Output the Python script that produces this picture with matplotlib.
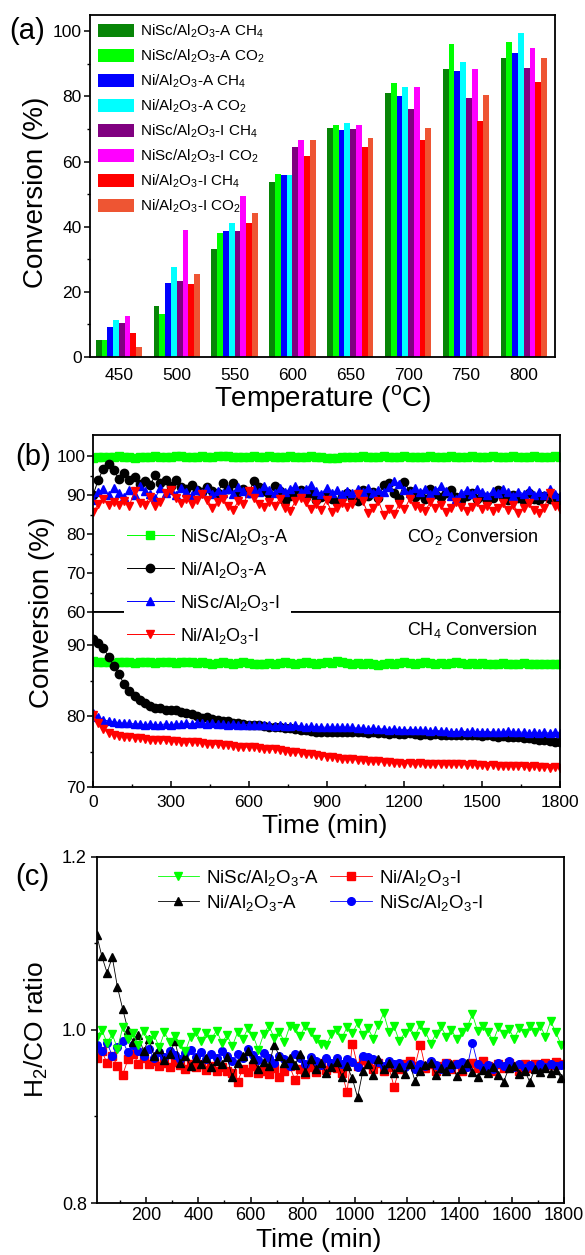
import numpy as np
import matplotlib
matplotlib.use("Agg")
import matplotlib.pyplot as plt
from matplotlib.ticker import MultipleLocator, FixedLocator

plt.rcParams['font.family'] = ['Liberation Sans', 'DejaVu Sans']
plt.rcParams['mathtext.fontset'] = 'custom'
plt.rcParams['mathtext.rm'] = 'Liberation Sans'
plt.rcParams['mathtext.it'] = 'Liberation Sans:italic'
plt.rcParams['mathtext.bf'] = 'Liberation Sans:bold'
plt.rcParams['mathtext.default'] = 'regular'

# ---------------- (a) data ----------------
temps = [450, 500, 550, 600, 650, 700, 750, 800]
nisc_a_ch4 = [5.1, 15.6, 33.1, 53.7, 70.3, 81.2, 88.5, 91.9]
nisc_a_co2 = [5.1, 13.3, 38.2, 56.3, 71.3, 84.0, 96.0, 96.8]
ni_a_ch4 = [9.2, 22.8, 38.6, 56.0, 69.7, 80.2, 87.9, 93.3]
ni_a_co2 = [11.5, 27.7, 41.2, 56.0, 71.7, 82.8, 90.6, 99.4]
nisc_i_ch4 = [10.3, 23.4, 38.6, 64.4, 70.1, 76.0, 79.6, 88.7]
nisc_i_co2 = [12.7, 39.0, 49.4, 66.5, 71.1, 82.8, 88.5, 94.8]
ni_i_ch4 = [7.4, 22.4, 41.0, 61.6, 64.6, 66.5, 72.5, 84.4]
ni_i_co2 = [3.1, 25.4, 44.3, 66.5, 67.3, 70.3, 80.5, 91.8]
bar_labels = [r'NiSc/Al$_2$O$_3$-A CH$_4$', r'NiSc/Al$_2$O$_3$-A CO$_2$',
              r'Ni/Al$_2$O$_3$-A CH$_4$', r'Ni/Al$_2$O$_3$-A CO$_2$',
              r'NiSc/Al$_2$O$_3$-I CH$_4$', r'NiSc/Al$_2$O$_3$-I CO$_2$',
              r'Ni/Al$_2$O$_3$-I CH$_4$', r'Ni/Al$_2$O$_3$-I CO$_2$']
bar_colors = ['#078507', '#00ff00', '#0000ff', '#00ffff',
              '#800080', '#ff00ff', '#ff0000', '#ee5533']

# ---------------- (b) data ----------------
time_b = [0, 20, 40, 60, 80, 100, 120, 140, 160, 180,
          200, 220, 240, 260, 280, 300, 320, 340, 360, 380,
          400, 420, 440, 460, 480, 500, 520, 540, 560, 580,
          600, 620, 640, 660, 680, 700, 720, 740, 760, 780,
          800, 820, 840, 860, 880, 900, 920, 940, 960, 980,
          1000, 1020, 1040, 1060, 1080, 1100, 1120, 1140, 1160, 1180,
          1200, 1220, 1240, 1260, 1280, 1300, 1320, 1340, 1360, 1380,
          1400, 1420, 1440, 1460, 1480, 1500, 1520, 1540, 1560, 1580,
          1600, 1620, 1640, 1660, 1680, 1700, 1720, 1740, 1760, 1780,
          1800]

co2_nisc_a = [99.6, 99.7, 99.8, 99.7, 99.8, 99.9, 99.7, 99.8, 99.6, 99.7,
              99.8, 99.7, 99.9, 99.8, 99.7, 99.8, 99.9, 100.0, 99.8, 99.7,
              99.8, 99.9, 99.8, 99.7, 99.9, 100.1, 99.9, 99.8, 99.7, 99.8,
              99.8, 99.9, 99.7, 99.8, 99.9, 99.8, 99.7, 99.8, 99.9, 99.8,
              99.7, 99.8, 99.9, 99.8, 99.7, 99.5, 99.4, 99.6, 99.7, 99.8,
              99.7, 99.8, 99.9, 99.8, 99.7, 99.8, 99.9, 99.8, 99.7, 99.8,
              99.9, 99.8, 99.7, 99.8, 99.8, 99.9, 99.8, 99.7, 99.8, 99.9,
              99.8, 99.7, 99.8, 99.9, 99.8, 99.7, 99.8, 99.9, 99.8, 99.7,
              99.8, 99.9, 99.8, 99.7, 99.8, 99.9, 99.8, 99.7, 99.8, 99.9,
              99.8]
co2_ni_a = [90.0, 93.8, 96.8, 97.9, 96.4, 94.0, 95.7, 93.8, 94.5, 92.8,
            93.7, 92.6, 95.1, 93.2, 93.8, 92.4, 93.8, 92.1, 91.5, 92.5,
            91.2, 90.8, 92.0, 91.0, 90.6, 93.0, 91.5, 93.0, 90.8, 91.6,
            90.4, 93.7, 92.0, 91.0, 90.2, 92.3, 91.0, 88.5, 89.8, 90.6,
            91.3, 89.5, 90.4, 88.8, 89.6, 90.2, 89.0, 88.2, 89.4, 90.5,
            89.1, 88.4, 91.2, 89.7, 90.8, 89.3, 92.5, 93.2, 90.6, 89.2,
            93.4, 91.0, 89.6, 90.3, 89.0, 91.6, 90.2, 89.4, 90.6, 91.2,
            89.5, 88.6, 89.8, 90.5, 88.9, 89.7, 88.4, 89.2, 91.3, 89.6,
            88.7, 90.1, 89.2, 88.5, 90.4, 89.0, 88.6, 89.8, 88.9, 89.5,
            88.8]
co2_nisc_i = [88.6, 90.8, 91.5, 89.9, 91.8, 90.4, 89.6, 91.2, 90.0, 92.3,
              91.0, 90.3, 89.3, 91.7, 90.6, 91.4, 90.1, 91.8, 90.7, 89.9,
              91.3, 90.5, 91.9, 90.2, 91.0, 90.6, 91.6, 90.3, 92.1, 91.0,
              90.4, 91.5, 90.7, 92.4, 91.2, 90.5, 91.9, 90.8, 91.6, 92.2,
              90.9, 91.5, 92.6, 91.1, 90.3, 91.8, 90.6, 91.2, 90.2, 91.0,
              90.4, 91.5, 90.7, 91.9, 90.5, 91.3, 90.8, 92.0, 93.6, 92.8,
              91.4, 90.6, 91.8, 90.9, 91.5, 90.3, 91.2, 92.3, 91.0, 89.8,
              89.1, 90.5, 91.3, 90.2, 91.6, 90.8, 89.9, 91.1, 90.4, 91.5,
              90.7, 89.8, 90.9, 90.3, 91.4, 90.1, 90.8, 89.9, 91.6, 90.2,
              89.8]
co2_ni_i = [85.6, 87.6, 88.9, 87.5, 88.2, 87.4, 88.5, 87.3, 91.0, 88.0,
            87.5, 89.6, 87.3, 88.1, 90.4, 91.2, 89.3, 88.0, 89.0, 87.8,
            88.6, 90.3, 88.8, 86.8, 88.2, 89.0, 87.3, 86.1, 88.5, 87.6,
            91.0, 89.2, 87.8, 86.9, 88.3, 87.2, 89.1, 86.7, 86.0, 88.4,
            89.3, 88.1, 86.5, 87.8, 86.2, 88.6, 85.7, 86.6, 88.0, 86.9,
            87.7, 90.2, 88.4, 85.3, 86.8, 88.5, 85.0, 86.4, 85.2, 87.6,
            86.3, 88.9, 87.1, 86.6, 85.9, 88.2, 86.8, 87.5, 85.6, 86.7,
            88.3, 87.0, 85.8, 86.9, 88.1, 86.4, 87.3, 85.9, 86.8, 88.0,
            86.2, 87.4, 85.5, 86.7, 87.9, 86.1, 85.4, 86.8, 90.5, 87.2,
            86.4]

ch4_nisc_a = [87.8, 87.7, 87.6, 87.7, 87.5, 87.6, 87.7, 87.6, 87.5, 87.6,
              87.7, 87.6, 87.5, 87.6, 87.7, 87.6, 87.5, 87.6, 87.7, 87.6,
              87.5, 87.6, 87.5, 87.4, 87.5, 87.6, 87.5, 87.4, 87.5, 87.6,
              87.5, 87.4, 87.3, 87.4, 87.5, 87.4, 87.5, 87.6, 87.5, 87.4,
              87.5, 87.6, 87.5, 87.4, 87.5, 87.6, 87.5, 87.8, 87.6, 87.5,
              87.4, 87.5, 87.4, 87.5, 87.3, 87.2, 87.4, 87.5, 87.4, 87.5,
              87.6, 87.5, 87.4, 87.5, 87.6, 87.5, 87.4, 87.5, 87.4, 87.5,
              87.6, 87.5, 87.4, 87.5, 87.4, 87.5, 87.4, 87.3, 87.4, 87.5,
              87.4, 87.3, 87.4, 87.5, 87.4, 87.3, 87.4, 87.3, 87.4, 87.3,
              87.4]
ch4_ni_a = [90.9, 90.3, 89.6, 88.4, 87.1, 85.9, 84.5, 83.5, 82.8, 82.3,
            81.9, 81.5, 81.2, 81.1, 80.9, 80.8, 80.9, 80.6, 80.4, 80.3,
            80.0, 79.8, 79.9, 79.6, 79.4, 79.3, 79.3, 79.1, 79.0, 78.9,
            78.8, 78.7, 78.7, 78.6, 78.5, 78.5, 78.4, 78.3, 78.3, 78.2,
            78.1, 78.0, 77.9, 77.8, 77.8, 77.7, 77.8, 77.7, 77.8, 77.7,
            77.7, 77.8, 77.7, 77.6, 77.7, 77.6, 77.6, 77.5, 77.6, 77.5,
            77.5, 77.6, 77.5, 77.4, 77.5, 77.4, 77.5, 77.4, 77.4, 77.3,
            77.4, 77.3, 77.3, 77.4, 77.3, 77.2, 77.3, 77.2, 77.1, 77.2,
            77.1, 77.0, 77.0, 76.9, 76.9, 76.8, 76.7, 76.6, 76.5, 76.4,
            76.3]
ch4_nisc_i = [80.4, 79.9, 79.5, 79.3, 79.2, 79.1, 79.0, 79.0, 78.9, 78.9,
              78.8, 78.9, 78.8, 78.8, 78.9, 78.8, 78.9, 78.9, 79.0, 78.9,
              79.0, 79.0, 78.9, 79.0, 78.9, 78.9, 78.8, 78.9, 78.8, 78.8,
              78.8, 78.7, 78.8, 78.7, 78.7, 78.6, 78.7, 78.6, 78.6, 78.7,
              78.6, 78.5, 78.6, 78.5, 78.5, 78.4, 78.5, 78.4, 78.5, 78.4,
              78.4, 78.3, 78.3, 78.2, 78.3, 78.2, 78.2, 78.1, 78.2, 78.1,
              78.1, 78.0, 78.1, 78.0, 78.0, 77.9, 78.0, 77.9, 77.9, 77.8,
              77.7, 77.9, 77.8, 77.9, 77.8, 77.8, 77.7, 77.8, 77.7, 77.8,
              77.9, 77.7, 77.8, 77.7, 77.6, 77.7, 77.6, 77.7, 77.6, 77.7,
              77.6]
ch4_ni_i = [80.1, 79.0, 78.2, 77.6, 77.4, 77.2, 77.1, 77.0, 76.9, 76.9,
            76.8, 76.7, 76.7, 76.6, 76.6, 76.5, 76.5, 76.4, 76.4, 76.3,
            76.3, 76.2, 76.1, 76.1, 76.0, 75.9, 75.9, 75.8, 75.7, 75.7,
            75.6, 75.6, 75.5, 75.4, 75.4, 75.3, 75.2, 75.1, 75.0, 74.9,
            74.8, 74.7, 74.6, 74.5, 74.4, 74.3, 74.2, 74.1, 74.0, 74.0,
            73.9, 73.8, 73.8, 73.7, 73.6, 73.6, 73.5, 73.5, 73.4, 73.4,
            73.3, 73.4, 73.3, 73.4, 73.3, 73.3, 73.2, 73.3, 73.2, 73.2,
            73.3, 73.2, 73.1, 73.2, 73.1, 73.1, 73.0, 73.1, 73.0, 73.0,
            72.9, 73.0, 72.9, 72.9, 72.8, 72.9, 72.8, 72.8, 72.7, 72.8,
            72.7]

# ---------------- (c) data ----------------
time_c = [10, 30, 50, 70, 90, 110, 130, 150, 170, 190,
          210, 230, 250, 270, 290, 310, 330, 350, 370, 390,
          410, 430, 450, 470, 490, 510, 530, 550, 570, 590,
          610, 630, 650, 670, 690, 710, 730, 750, 770, 790,
          810, 830, 850, 870, 890, 910, 930, 950, 970, 990,
          1010, 1030, 1050, 1070, 1090, 1110, 1130, 1150, 1170, 1190,
          1210, 1230, 1250, 1270, 1290, 1310, 1330, 1350, 1370, 1390,
          1410, 1430, 1450, 1470, 1490, 1510, 1530, 1550, 1570, 1590,
          1610, 1630, 1650, 1670, 1690, 1710, 1730, 1750, 1770, 1790]
ratio_nisc_a = [0.992, 1.000, 0.985, 0.995, 0.978, 1.003, 0.990, 0.996, 0.982, 0.999,
                0.988, 0.994, 0.980, 0.997, 0.986, 0.993, 0.984, 0.975, 0.992, 0.998,
                0.987, 0.996, 0.990, 0.999, 0.985, 0.994, 0.981, 0.997, 0.989, 1.002,
                0.993, 0.977, 0.995, 1.005, 0.991, 0.998, 0.986, 1.004, 1.002, 0.993,
                1.005, 0.998, 0.990, 0.984, 0.982, 0.995, 1.000, 0.991, 1.003, 0.996,
                1.008, 0.994, 1.002, 0.990, 1.006, 1.019, 0.998, 1.004, 0.987, 0.996,
                1.003, 0.993, 1.006, 0.998, 0.984, 0.995, 1.004, 0.992, 1.000, 0.989,
                0.997, 1.003, 1.018, 0.999, 1.004, 0.998, 0.987, 1.003, 0.995, 1.001,
                0.990, 1.002, 0.996, 1.004, 0.998, 1.005, 0.992, 1.010, 0.997, 0.983]
ratio_ni_a = [1.110, 1.085, 1.066, 1.084, 1.049, 1.024, 1.000, 0.986, 0.994, 0.975,
              0.990, 0.970, 0.978, 0.965, 0.972, 0.987, 0.962, 0.970, 0.958, 0.967,
              0.960, 0.968, 0.957, 0.964, 0.960, 0.969, 0.945, 0.962, 0.970, 0.975,
              0.966, 0.955, 0.963, 0.958, 0.983, 0.970, 0.962, 0.968, 0.959, 0.972,
              0.951, 0.966, 0.955, 0.962, 0.950, 0.957, 0.963, 0.946, 0.958, 0.944,
              0.922, 0.952, 0.960, 0.948, 0.966, 0.955, 0.962, 0.950, 0.957, 0.949,
              0.961, 0.941, 0.953, 0.959, 0.962, 0.948, 0.956, 0.952, 0.960, 0.947,
              0.955, 0.962, 0.951, 0.946, 0.954, 0.950, 0.957, 0.948, 0.940, 0.956,
              0.958, 0.949, 0.953, 0.940, 0.955, 0.951, 0.956, 0.950, 0.954, 0.944]
ratio_ni_i = [0.968, 0.975, 0.962, 0.970, 0.958, 0.948, 0.966, 0.972, 0.961, 0.968,
              0.960, 0.964, 0.958, 0.962, 0.957, 0.963, 0.959, 0.955, 0.961, 0.957,
              0.960, 0.954, 0.958, 0.953, 0.957, 0.952, 0.950, 0.940, 0.955, 0.951,
              0.958, 0.950, 0.953, 0.949, 0.956, 0.945, 0.952, 0.958, 0.942, 0.955,
              0.949, 0.957, 0.951, 0.962, 0.954, 0.960, 0.956, 0.950, 0.928, 0.984,
              0.958, 0.965, 0.960, 0.955, 0.962, 0.952, 0.957, 0.934, 0.955, 0.960,
              0.964, 0.958, 0.983, 0.956, 0.961, 0.953, 0.958, 0.962, 0.955, 0.960,
              0.952, 0.958, 0.962, 0.956, 0.964, 0.958, 0.953, 0.960, 0.956, 0.962,
              0.958, 0.953, 0.960, 0.956, 0.961, 0.958, 0.962, 0.959, 0.963, 0.961]
ratio_nisc_i = [0.983, 0.975, 0.985, 0.970, 0.980, 0.987, 0.974, 0.982, 0.976, 0.970,
                0.978, 0.967, 0.974, 0.969, 0.976, 0.971, 0.966, 0.973, 0.977, 0.969,
                0.974, 0.966, 0.972, 0.968, 0.975, 0.970, 0.964, 0.972, 0.967, 0.978,
                0.971, 0.965, 0.973, 0.968, 0.962, 0.970, 0.966, 0.958, 0.972, 0.967,
                0.961, 0.969, 0.964, 0.959, 0.967, 0.962, 0.968, 0.960, 0.966, 0.963,
                0.957, 0.970, 0.969, 0.966, 0.963, 0.958, 0.964, 0.960, 0.962, 0.957,
                0.960, 0.955, 0.961, 0.958, 0.964, 0.959, 0.955, 0.962, 0.956, 0.960,
                0.963, 0.957, 0.985, 0.961, 0.956, 0.959, 0.955, 0.962, 0.958, 0.964,
                0.957, 0.961, 0.956, 0.959, 0.955, 0.960, 0.957, 0.961, 0.958, 0.959]

lab_nisc_a = r'NiSc/Al$_2$O$_3$-A'
lab_ni_a = r'Ni/Al$_2$O$_3$-A'
lab_nisc_i = r'NiSc/Al$_2$O$_3$-I'
lab_ni_i = r'Ni/Al$_2$O$_3$-I'

W, H = 585, 1255
fig = plt.figure(figsize=(W / 100, H / 100), dpi=100)


def frac(left, top, right, bottom):
    return [left / W, 1 - bottom / H, (right - left) / W, (bottom - top) / H]


SPINE = 1.3
TICK_FS = 12.5


def style(ax):
    for s in ax.spines.values():
        s.set_linewidth(SPINE)


# ---------------- panel (a) ----------------
ax = fig.add_axes(frac(90, 15, 555, 357))
style(ax)
series_a = [nisc_a_ch4, nisc_a_co2, ni_a_ch4, ni_a_co2,
            nisc_i_ch4, nisc_i_co2, ni_i_ch4, ni_i_co2]
bw = 5
for i, vals in enumerate(series_a):
    ax.bar(np.array(temps) + (i - 3.5) * bw, vals, width=bw,
           color=bar_colors[i], label=bar_labels[i], linewidth=0)
ax.set_xlim(425, 827)
ax.set_ylim(0, 105)
ax.set_xticks(temps)
ax.yaxis.set_major_locator(MultipleLocator(20))
ax.yaxis.set_minor_locator(MultipleLocator(10))
ax.tick_params(axis='y', which='major', direction='out', length=4, width=1.1,
               labelsize=TICK_FS, pad=2)
ax.tick_params(axis='y', which='minor', direction='out', length=2.5, width=1.0)
ax.tick_params(axis='x', which='major', direction='in', length=0,
               labelsize=TICK_FS, pad=8)
ax.set_ylabel('Conversion (%)', fontsize=20, va='center')
ax.yaxis.set_label_coords(-0.116, 0.482)
ax.set_xlabel(r'Temperature ($^{\rm o}$C)', fontsize=20, va='center')
ax.xaxis.set_label_coords(0.5, -0.12)
ax.legend(loc='upper left', bbox_to_anchor=(0.0, 1.0), frameon=False,
          fontsize=11, handlelength=2.35, handleheight=0.9,
          labelspacing=0.5, handletextpad=0.4, borderaxespad=0.3,
          borderpad=0.2)
fig.text(27 / W, 1 - 31 / H, '(a)', fontsize=21, ha='center', va='center')

# ---------------- panel (b) ----------------
axt = fig.add_axes(frac(93, 435, 560, 612))
axb = fig.add_axes(frac(93, 612, 560, 787))
style(axt)
style(axb)
MS = 6
b_specs = [
    (co2_nisc_a, ch4_nisc_a, '#00ff00', 's', lab_nisc_a),
    (co2_ni_a, ch4_ni_a, '#000000', 'o', lab_ni_a),
    (co2_nisc_i, ch4_nisc_i, '#0000ff', '^', lab_nisc_i),
    (co2_ni_i, ch4_ni_i, '#ff0000', 'v', lab_ni_i),
]
handles_b = []
for co2, ch4, c, m, lab in b_specs:
    h, = axt.plot(time_b, co2, color=c, marker=m, markersize=MS, lw=0.7,
                  markeredgecolor=c, label=lab)
    axb.plot(time_b, ch4, color=c, marker=m, markersize=MS, lw=0.7,
             markeredgecolor=c)
    handles_b.append(h)

for a in (axt, axb):
    a.set_xlim(0, 1800)
axt.set_ylim(60, 105.4)
axb.set_ylim(70, 94.7)
axt.yaxis.set_major_locator(FixedLocator([60, 70, 80, 90, 100]))
axt.yaxis.set_minor_locator(FixedLocator([65, 75, 85, 95]))
axb.yaxis.set_major_locator(FixedLocator([70, 80, 90]))
axb.yaxis.set_minor_locator(FixedLocator([75, 85]))
axb.xaxis.set_major_locator(MultipleLocator(300))
axb.xaxis.set_minor_locator(MultipleLocator(150))
axt.tick_params(axis='x', which='both', bottom=False, top=False,
                labelbottom=False)
for a in (axt, axb):
    a.tick_params(axis='y', which='major', direction='out', length=4,
                  width=1.1, labelsize=TICK_FS, pad=1.5)
    a.tick_params(axis='y', which='minor', direction='out', length=2.5,
                  width=1.0)
axb.tick_params(axis='x', which='major', direction='in', length=4, width=1.1,
                labelsize=TICK_FS, pad=6)
axb.tick_params(axis='x', which='minor', direction='in', length=2.5,
                width=1.0)
axt.text(0.955, 0.425, r'CO$_2$ Conversion', transform=axt.transAxes,
         ha='right', va='center', fontsize=13)
axb.text(0.951, 0.897, r'CH$_4$ Conversion', transform=axb.transAxes,
         ha='right', va='center', fontsize=13)
axb.set_xlabel('Time (min)', fontsize=19, va='center')
axb.xaxis.set_label_coords(0.496, -0.223)
axb.set_ylabel('Conversion (%)', fontsize=20, va='center')
axb.yaxis.set_label_coords(-0.109, 1.0)
fig.legend(handles=handles_b, loc='upper left',
           bbox_to_anchor=(124 / W, 1 - 524 / H), frameon=True,
           facecolor='white', edgecolor='none', framealpha=1, fancybox=False,
           fontsize=13, handlelength=2.6, labelspacing=0.72,
           handletextpad=0.35, borderpad=0.15, borderaxespad=0)
fig.text(33 / W, 1 - 457 / H, '(b)', fontsize=21, ha='center', va='center')

# ---------------- panel (c) ----------------
axc = fig.add_axes(frac(97.4, 856.7, 563.7, 1203))
style(axc)
c_specs = {
    'nisc_a': (ratio_nisc_a, '#00ff00', 'v', lab_nisc_a),
    'ni_a': (ratio_ni_a, '#000000', '^', lab_ni_a),
    'ni_i': (ratio_ni_i, '#ff0000', 's', lab_ni_i),
    'nisc_i': (ratio_nisc_i, '#0000ff', 'o', lab_nisc_i),
}
hc = {}
for key in ['ni_i', 'nisc_i', 'ni_a', 'nisc_a']:
    vals, c, m, lab = c_specs[key]
    h, = axc.plot(time_c, vals, color=c, marker=m, markersize=5.5, lw=0.6,
                  markeredgecolor=c, label=lab)
    hc[key] = h
axc.set_xlim(13, 1800)
axc.set_ylim(0.8, 1.2)
axc.xaxis.set_major_locator(FixedLocator([200, 400, 600, 800, 1000, 1200,
                                          1400, 1600, 1800]))
axc.xaxis.set_minor_locator(MultipleLocator(100))
axc.yaxis.set_major_locator(FixedLocator([0.8, 1.0, 1.2]))
axc.yaxis.set_minor_locator(FixedLocator([0.9, 1.1]))
axc.set_yticklabels(['0.8', '1.0', '1.2'])
axc.tick_params(axis='y', which='major', direction='out', length=4.5,
                width=1.1, labelsize=13, pad=3)
axc.tick_params(axis='y', which='minor', direction='out', length=2.5,
                width=1.0)
axc.tick_params(axis='x', which='major', direction='in', length=4, width=1.1,
                labelsize=13, pad=3)
axc.tick_params(axis='x', which='minor', direction='in', length=2.5,
                width=1.0)
axc.set_xlabel('Time (min)', fontsize=19, va='center')
axc.xaxis.set_label_coords(0.474, -0.107)
axc.set_ylabel(r'H$_2$/CO ratio', fontsize=19, va='center')
axc.yaxis.set_label_coords(-0.13, 0.5)
axc.legend(handles=[hc['nisc_a'], hc['ni_a'], hc['ni_i'], hc['nisc_i']],
           ncol=2, loc='upper center', bbox_to_anchor=(0.478, 1.0),
           frameon=False, fontsize=13.5, handlelength=2.2,
           columnspacing=0.6, handletextpad=0.4, labelspacing=0.25,
           borderaxespad=0.2)
fig.text(32 / W, 1 - 877 / H, '(c)', fontsize=21, ha='center', va='center')

fig.savefig('out.png', dpi=100)
